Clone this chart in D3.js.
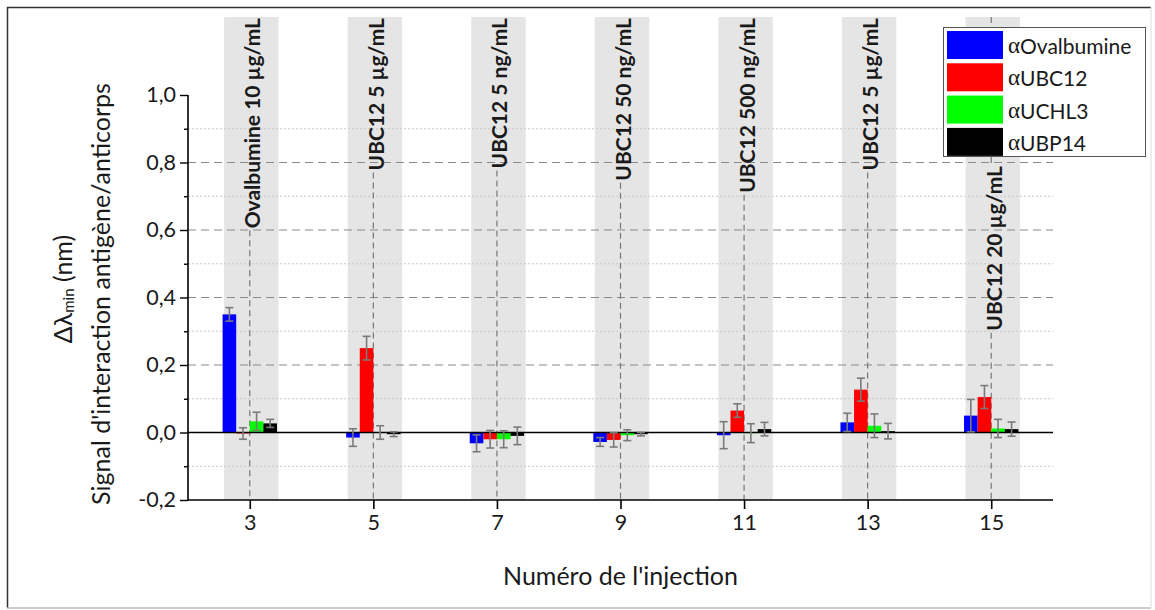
<!DOCTYPE html>
<html>
<head>
<meta charset="utf-8">
<script src="https://cdn.jsdelivr.net/npm/d3@7"></script>
<style>
  html, body { margin: 0; padding: 0; background: #fff; }
  svg { display: block; }
  text { font-family: Lato, "Open Sans", sans-serif; fill: #1a1a1a; }
</style>
</head>
<body>
<svg id="chart" width="1155" height="610"></svg>
<script>
// ---- data ----
const injections = [3, 5, 7, 9, 11, 13, 15];
const injectionLabels = ["Ovalbumine 10 µg/mL", "UBC12 5 µg/mL", "UBC12 5 ng/mL", "UBC12 50 ng/mL",
                         "UBC12 500 ng/mL", "UBC12 5 µg/mL", "UBC12 20 µg/mL"];
const seriesNames = ["Ovalbumine", "UBC12", "UCHL3", "UBP14"];
const ovalbumine    = [0.350, -0.015, -0.032, -0.028, -0.008, 0.030, 0.050];
const ovalbumineErr = [0.020,  0.026,  0.025,  0.013,  0.040, 0.027, 0.048];
const ubc12         = [-0.003, 0.250, -0.020, -0.022, 0.065, 0.127, 0.105];
const ubc12Err      = [0.017,  0.035,  0.026,  0.021, 0.020, 0.034, 0.034];
const uchl3         = [0.033,  0.000, -0.020, -0.008, -0.002, 0.020, 0.012];
const uchl3Err      = [0.027,  0.020,  0.025,  0.016,  0.028, 0.035, 0.027];
const ubp14         = [0.027, -0.005, -0.010, -0.005, 0.010, 0.004, 0.010];
const ubp14Err      = [0.012,  0.007,  0.026,  0.005, 0.020, 0.023, 0.021];
const yMajorTicks = [-0.2, 0, 0.2, 0.4, 0.6, 0.8, 1.0];
const yMinorTicks = [-0.1, 0.1, 0.3, 0.5, 0.7, 0.9];

const seriesValues = [ovalbumine, ubc12, uchl3, ubp14];
const seriesErrors = [ovalbumineErr, ubc12Err, uchl3Err, ubp14Err];
const colors = ["#0000ff", "#ff0000", "#00ff00", "#000000"];

// ---- layout ----
const svg = d3.select("#chart");
const plotL = 188, plotR = 1053, plotB = 500, yTopAxis = 95, bandTop = 17;
const x = d3.scaleLinear().domain([2, 16]).range([plotL, plotR]);
const y = d3.scaleLinear().domain([-0.2, 1.0]).range([plotB, yTopAxis]);
const halfGroup = 0.44;
const unit = x(1) - x(0);
const inner = d3.scaleBand().domain(seriesNames).range([-halfGroup * unit, halfGroup * unit]).padding(0);

const loc = d3.formatLocale({decimal: ",", thousands: " ", grouping: [3], currency: ["", ""], minus: "-"});
const fmt = loc.format(".1f");

// outer frame
svg.append("line").attr("x1", 7).attr("x2", 1151).attr("y1", 7.5).attr("y2", 7.5).attr("stroke", "#333").attr("stroke-width", 1.5);
svg.append("line").attr("x1", 7.5).attr("x2", 7.5).attr("y1", 7).attr("y2", 608).attr("stroke", "#333").attr("stroke-width", 1.5);
svg.append("line").attr("x1", 7).attr("x2", 1151).attr("y1", 608).attr("y2", 608).attr("stroke", "#bbb").attr("stroke-width", 1.5);
svg.append("line").attr("x1", 1151).attr("x2", 1151).attr("y1", 7).attr("y2", 608).attr("stroke", "#ddd").attr("stroke-width", 1);

// gray bands
svg.append("g").selectAll("rect").data(injections).join("rect")
  .attr("x", d => x(d - halfGroup) + 1.5)
  .attr("width", d => x(d + halfGroup) - x(d - halfGroup))
  .attr("y", bandTop).attr("height", plotB - bandTop)
  .attr("fill", "#e5e5e5");

// gridlines
svg.append("g").selectAll("line").data(yMinorTicks).join("line")
  .attr("x1", plotL).attr("x2", plotR).attr("y1", d => y(d)).attr("y2", d => y(d))
  .attr("stroke", "#c8c8c8").attr("stroke-width", 1).attr("stroke-dasharray", "2,2");
svg.append("g").selectAll("line").data(yMajorTicks.filter(d => d > 0 && d < 1)).join("line")
  .attr("x1", plotL).attr("x2", plotR).attr("y1", d => y(d)).attr("y2", d => y(d))
  .attr("stroke", "#8a8a8a").attr("stroke-width", 1.2).attr("stroke-dasharray", "8,5");

// annotation labels (rotated) and vertical dashed lines
const vlineG = svg.append("g");
const labelG = svg.append("g");
injections.forEach((c, i) => {
  const topY = i === injections.length - 1 ? 166 : 18;
  const t = labelG.append("text")
    .attr("transform", `translate(${x(c) + 2},${topY}) rotate(-90)`)
    .attr("text-anchor", "end")
    .attr("dominant-baseline", "central")
    .attr("font-weight", "bold")
    .attr("font-size", 21)
    .text(injectionLabels[i]);
  const len = t.node().getComputedTextLength();
  vlineG.append("line").attr("x1", x(c)).attr("x2", x(c)).attr("y1", topY + len + 2).attr("y2", plotB)
    .attr("stroke", "#777").attr("stroke-width", 1.2).attr("stroke-dasharray", "6,4");
  if (topY > bandTop + 5) {
    vlineG.append("line").attr("x1", x(c)).attr("x2", x(c)).attr("y1", bandTop).attr("y2", topY - 2)
      .attr("stroke", "#777").attr("stroke-width", 1.2).attr("stroke-dasharray", "6,4");
  }
});

// bars
const barsG = svg.append("g");
seriesNames.forEach((s, si) => {
  barsG.append("g").selectAll("rect").data(injections).join("rect")
    .attr("x", (d) => x(d) + inner(s))
    .attr("width", inner.bandwidth())
    .attr("y", (d, i) => y(Math.max(0, seriesValues[si][i])))
    .attr("height", (d, i) => Math.abs(y(seriesValues[si][i]) - y(0)))
    .attr("fill", colors[si]);
});

// zero line
svg.append("line").attr("x1", plotL).attr("x2", plotR).attr("y1", y(0)).attr("y2", y(0))
  .attr("stroke", "#000").attr("stroke-width", 1.6);

// error bars
const errG = svg.append("g").attr("stroke", "#7a7a7a").attr("stroke-width", 1.6).attr("fill", "none");
seriesNames.forEach((s, si) => {
  injections.forEach((c, i) => {
    const cx = x(c) + inner(s) + inner.bandwidth() / 2;
    const v = seriesValues[si][i], e = seriesErrors[si][i];
    const y1 = y(v + e), y2 = y(v - e);
    errG.append("line").attr("x1", cx).attr("x2", cx).attr("y1", y1).attr("y2", y2);
    errG.append("line").attr("x1", cx - 4).attr("x2", cx + 4).attr("y1", y1).attr("y2", y1);
    errG.append("line").attr("x1", cx - 4).attr("x2", cx + 4).attr("y1", y2).attr("y2", y2);
  });
});

// y axis
const yAxis = svg.append("g").attr("transform", `translate(${plotL},0)`)
  .call(d3.axisLeft(y).tickValues(yMajorTicks).tickFormat(d => fmt(d)).tickSize(8).tickPadding(4));
yAxis.select(".domain").attr("stroke", "#000").attr("stroke-width", 1.6).attr("d", `M0,${y(1.0)}V${plotB}`);
yAxis.selectAll(".tick line").attr("stroke", "#000").attr("stroke-width", 1.4);
yAxis.selectAll(".tick text").attr("font-size", 21.5).attr("font-family", "Lato").attr("fill", "#1a1a1a");
const yMinor = svg.append("g").attr("transform", `translate(${plotL},0)`)
  .call(d3.axisLeft(y).tickValues(yMinorTicks).tickFormat("").tickSize(4));
yMinor.select(".domain").remove();
yMinor.selectAll(".tick line").attr("stroke", "#000").attr("stroke-width", 1.4);

// x axis
const xAxis = svg.append("g").attr("transform", `translate(0,${plotB})`)
  .call(d3.axisBottom(x).tickValues(injections).tickFormat(d3.format("d")).tickSize(9).tickPadding(6));
xAxis.select(".domain").attr("stroke", "#000").attr("stroke-width", 1.6).attr("d", `M${plotL},0H${plotR}`);
xAxis.selectAll(".tick line").attr("stroke", "#000").attr("stroke-width", 1.6);
xAxis.selectAll(".tick text").attr("font-size", 21.5).attr("font-family", "Lato").attr("fill", "#1a1a1a");

// axis titles
svg.append("text").attr("x", (plotL + plotR) / 2).attr("y", 585)
  .attr("text-anchor", "middle").attr("font-size", 25).text("Numéro de l'injection");
const yt1 = svg.append("text").attr("transform", "translate(62,289) rotate(-90)")
  .attr("text-anchor", "middle").attr("dominant-baseline", "central").attr("font-size", 25);
yt1.append("tspan").text("Δλ");
yt1.append("tspan").attr("font-size", 15).attr("dy", 6).text("min");
yt1.append("tspan").attr("dy", -6).text(" (nm)");
svg.append("text").attr("transform", "translate(100,294) rotate(-90)")
  .attr("text-anchor", "middle").attr("dominant-baseline", "central").attr("font-size", 25)
  .text("Signal d'interaction antigène/anticorps");

// legend
const lg = svg.append("g").attr("transform", "translate(943,27)");
lg.append("rect").attr("x", 0.5).attr("y", 0.5).attr("width", 202).attr("height", 129)
  .attr("fill", "#fff").attr("stroke", "#555").attr("stroke-width", 1);
seriesNames.forEach((s, i) => {
  const gy = 4 + i * 32.3;
  lg.append("rect").attr("x", 4).attr("y", gy).attr("width", 56).attr("height", 28).attr("fill", colors[i]);
  const t = lg.append("text").attr("x", 65).attr("y", gy + 14).attr("dominant-baseline", "central").attr("font-size", 21);
  t.append("tspan").attr("font-family", "'Liberation Serif', 'DejaVu Serif', serif").attr("font-size", 23).text("α");
  t.append("tspan").text(s);
});
</script>
</body>
</html>
